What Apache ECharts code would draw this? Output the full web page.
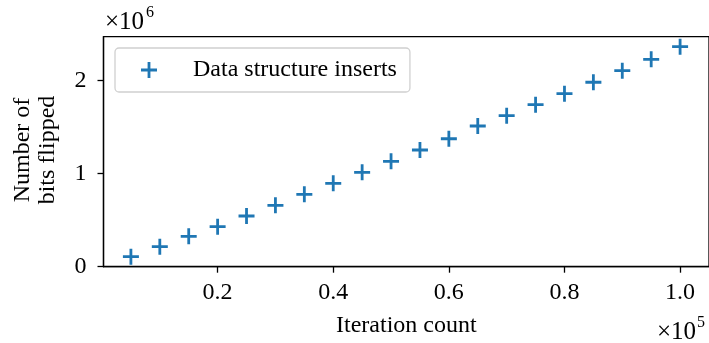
<!DOCTYPE html>
<html>
<head>
<meta charset="utf-8">
<script src="https://cdn.jsdelivr.net/npm/echarts@6/dist/echarts.min.js"></script>
<style>html,body{margin:0;padding:0;background:#fff;}#c{width:709px;height:343px;}</style>
</head>
<body>
<div id="c"></div>
<script>
const iterations = [5000,10000,15000,20000,25000,30000,35000,40000,45000,50000,55000,60000,65000,70000,75000,80000,85000,90000,95000,100000];
const bitsFlipped = [107500,215000,327000,430000,545000,660000,778000,897000,1015000,1133000,1255000,1376000,1513000,1624000,1742000,1860000,1983000,2108000,2230000,2366000];
const xTickValues = [20000,40000,60000,80000,100000];
const yTickValues = [0,1000000,2000000];
const seriesName = 'Data structure inserts';
const xLabel = 'Iteration count';
const yLabel = 'Number of\nbits flipped';

const FONT = '"Liberation Serif", "Times New Roman", serif';
const PLUS = 'path://M0,6.6H16V9.4H0Z M6.6,0H9.4V16H6.6Z';
const chart = echarts.init(document.getElementById('c'), null, {renderer:'canvas'});
chart.setOption({
  animation: false,
  backgroundColor: '#fff',
  grid: {left: 103.5, right: -2, top: 36.7, height: 230, show: true, borderColor: '#000', borderWidth: 1.3, backgroundColor: 'transparent'},
  xAxis: {
    type: 'value', min: 259, max: 105000,
    axisLine: {show: true, lineStyle: {color: '#000', width: 1.3}},
    axisTick: {show: true, length: 6, lineStyle: {color: '#000', width: 1.3}, customValues: xTickValues},
    axisLabel: {margin: 14, fontFamily: FONT, fontSize: 24, color: '#000', customValues: xTickValues,
      formatter: v => (v/1e5).toFixed(1)},
    splitLine: {show: false}
  },
  yAxis: {
    type: 'value', min: 0, max: 2473000,
    axisLine: {show: true, lineStyle: {color: '#000', width: 1.3}},
    axisTick: {show: true, length: 6, lineStyle: {color: '#000', width: 1.3}, customValues: yTickValues},
    axisLabel: {margin: 17, fontFamily: FONT, fontSize: 24, color: '#000', customValues: yTickValues,
      formatter: v => String(Math.round(v/1e6))},
    splitLine: {show: false}
  },
  legend: {
    left: 115, top: 48, orient: 'horizontal',
    padding: [10, 13, 10, 26],
    itemWidth: 16, itemHeight: 16,
    backgroundColor: '#fff', borderColor: '#d0d0d0', borderWidth: 1.3, borderRadius: 4,
    itemStyle: {opacity: 1},
    textStyle: {fontFamily: FONT, fontSize: 24, color: '#000', padding: [0,0,0,31]},
    data: [{name: seriesName, icon: PLUS}]
  },
  graphic: [
    {type: 'text', left: 407 - 71, top: 314, style: {text: xLabel, fontFamily: FONT, fontSize: 24, fill: '#000'}},
    {type: 'text', x: 35, y: 150, rotation: Math.PI/2, style: {text: yLabel, fontFamily: FONT, fontSize: 24, lineHeight: 25, fill: '#000', align: 'center', verticalAlign: 'middle'}},
    {type: 'text', x: 105, y: 10, style: {text: '×10', fontFamily: FONT, fontSize: 25, fill: '#000'}},
    {type: 'text', x: 146, y: 5, style: {text: '6', fontFamily: FONT, fontSize: 16, fill: '#000'}},
    {type: 'text', x: 657, y: 320, style: {text: '×10', fontFamily: FONT, fontSize: 25, fill: '#000'}},
    {type: 'text', x: 697, y: 315, style: {text: '5', fontFamily: FONT, fontSize: 16, fill: '#000'}}
  ],
  series: [{
    name: seriesName, type: 'scatter', symbol: PLUS, symbolSize: 16,
    itemStyle: {color: '#1f77b4', opacity: 1},
    data: iterations.map((x, i) => [x, bitsFlipped[i]])
  }]
});
</script>
</body>
</html>
